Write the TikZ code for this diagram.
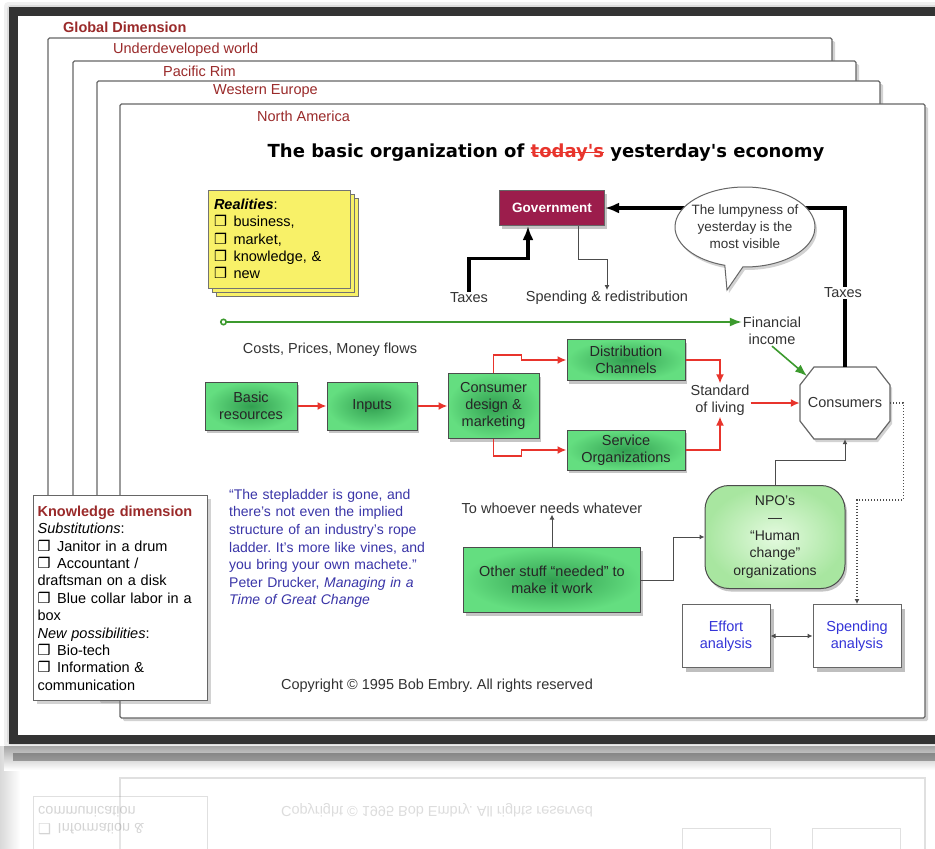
\documentclass[tikz,border=0pt]{standalone}
\usepackage{fontspec}
\setmainfont{Liberation Sans}
\newfontfamily\titlefont{DejaVu Sans}
\newfontfamily\symfont{DejaVu Sans}
\usetikzlibrary{arrows.meta,shapes.callouts,shadows,positioning}

\definecolor{pagered}{HTML}{9A2A2A}
\definecolor{govred}{HTML}{9C1D4C}
\definecolor{boxgreen}{HTML}{64DE80}
\definecolor{darkgreen}{HTML}{32A051}
\definecolor{npolight}{HTML}{E4FADF}
\definecolor{npoedge}{HTML}{A8E6A0}
\definecolor{flowred}{HTML}{E8342C}
\definecolor{flowgreen}{HTML}{3C9A2E}
\definecolor{quoteblue}{HTML}{3A35A8}
\definecolor{linkblue}{HTML}{3434D8}
\definecolor{noteyellow}{HTML}{F8F168}

\newcommand{\cb}{{\symfont ❒}\hspace{.45em}}
\newsavebox\strikebox
\newcommand{\strikeout}[1]{\sbox\strikebox{#1}\rlap{\color{flowred}\rule[.28em]{\wd\strikebox}{.9pt}}\usebox\strikebox}
\frenchspacing

\begin{document}
\begin{tikzpicture}[%
    x=1pt, y=-1pt,
    >=Latex,
    font=\fontsize{14.5}{17.2}\selectfont,
    node distance=30pt,
    pagebox/.style={draw=black!60, line width=1.2pt, fill=white, rounded corners=1.5pt,
        drop shadow={shadow xshift=3pt, shadow yshift=-3pt, opacity=.35}},
    pagelabel/.style={anchor=west, text=pagered, inner sep=0pt},
    notebox/.style={rectangle, fill=noteyellow, draw=black!55, line width=.8pt,
        minimum width=142pt, minimum height=98pt, text width=130pt, align=left,
        double copy shadow={shadow xshift=4pt, shadow yshift=-4pt}},
    govbox/.style={rectangle, fill=govred, draw=black!60, line width=1pt, text=white,
        font=\fontsize{13.5}{16}\selectfont\bfseries, minimum width=105pt, minimum height=35pt,
        drop shadow={shadow xshift=2pt, shadow yshift=-3pt, opacity=.45}},
    flowbox/.style={rectangle, draw=black!70, line width=1pt, inner color=darkgreen,
        outer color=boxgreen, text=black!85, align=center, inner sep=2pt,
        drop shadow={shadow xshift=2pt, shadow yshift=-3pt, opacity=.45}},
    analysisbox/.style={rectangle, draw=black!60, line width=1pt, fill=white, text=linkblue,
        align=center, minimum width=88pt, minimum height=63pt,
        drop shadow={shadow xshift=4pt, shadow yshift=-4pt, opacity=.5}},
    plainlbl/.style={text=black!80, align=center, inner sep=1pt},
    redflow/.style={draw=flowred, line width=1.8pt, -{Latex[length=9pt, width=8pt]}},
    greenflow/.style={draw=flowgreen, line width=1.6pt, -{Latex[length=12pt, width=9pt]}},
    taxflow/.style={draw=black, line width=3.5pt, -{Latex[length=14pt, width=11pt]}},
    thinflow/.style={draw=black!70, line width=1pt, -{Latex[length=5pt, width=5pt]}},
    ]

    \useasboundingbox (0,0) rectangle (935,849);
    \fill[white] (0,0) rectangle (935,849);

    % outer frame (Global Dimension)
    \foreach \d/\op in {9/.06, 6/.08, 3/.12}
        \fill[black, opacity=\op, rounded corners=4pt] (13-\d,11-\d) rectangle (960,739+\d);
    \draw[line width=9pt, draw=black!80, fill=white] (13,11) rectangle (960,739);

    % reflection
    \shade[left color=black!15, right color=white] (0,746) rectangle (20,849);
    \begin{scope}
        \clip (0,745) rectangle (935,849);
        \shade[top color=black!35, bottom color=white] (4,746) rectangle (935,770);
        \begin{scope}[shift={(0,1496)}, yscale=-1]
            \draw[line width=8pt, draw=black!80, opacity=.4] (13,739) -- (960,739);
            \begin{scope}[opacity=.17, transform shape]
                \draw[black!70, line width=1.2pt] (120,560) -- (120,718) -- (925,718) -- (925,560);
                \draw[black!70, line width=1pt, fill=white] (33,560) rectangle (207,700);
                \node[anchor=west, inner sep=0pt] (commrefl) at (38,684) {communication};
                \node[anchor=west, inner sep=0pt] (inforefl) at (38,667) {\cb Information \&};
                \node[plainlbl] (copyrefl) at (437,686) {Copyright © 1995 Bob Embry. All rights reserved};
                \draw[black!70, line width=1pt] (682,600) rectangle (770,668);
                \draw[black!70, line width=1pt] (812,600) rectangle (900,668);
            \end{scope}
        \end{scope}
    \end{scope}

    % stacked pages
    \node[pagelabel, font=\fontsize{14.5}{17}\selectfont\bfseries] (gdlbl) at (63,27) {Global Dimension};
    \draw[pagebox] (48,38) rectangle (832,690);
    \node[pagelabel] (uwlbl) at (113,50) {Underdeveloped world};
    \draw[pagebox] (73,61) rectangle (856,690);
    \node[pagelabel] (prlbl) at (163,71) {Pacific Rim};
    \draw[pagebox] (97,81) rectangle (880,700);
    \node[pagelabel] (welbl) at (213,91) {Western Europe};
    \draw[pagebox] (120,104) rectangle (925,718);
    \node[pagelabel] (nalbl) at (257,116) {North America};

    \node[font=\titlefont\bfseries\fontsize{18}{21}\selectfont] (title) at (546,153)
        {The basic organization of \strikeout{\textcolor{flowred}{today's}} yesterday's economy};

    \node[notebox] (real) at (279,239)
        {{\bfseries\itshape Realities}:\\ \cb business,\\ \cb market,\\ \cb knowledge, \&\\ \cb new};

    \node[govbox] (gov) at (552,208) {Government};
    % octagon round the consumers
    \coordinate (conscentre) at (845,403);
    \draw[draw=black!60, line width=1.2pt, fill=white,
        drop shadow={shadow xshift=2pt, shadow yshift=-3pt, opacity=.35}]
        ([shift={(-31,-36)}]conscentre) -- ([shift={(31,-36)}]conscentre)
        -- ([shift={(45,-18)}]conscentre) -- ([shift={(45,18)}]conscentre)
        -- ([shift={(31,36)}]conscentre) -- ([shift={(-31,36)}]conscentre)
        -- ([shift={(-45,18)}]conscentre) -- ([shift={(-45,-18)}]conscentre) -- cycle;
    \node[minimum width=90pt, minimum height=72pt, inner sep=0pt, text=black!80] (cons) at (conscentre) {Consumers};

    % taxes from consumers
    \draw[taxflow] (cons.north) |- (gov.east);
    \node[plainlbl, fill=white] (taxR) at (843,293) {Taxes};

    \node[ellipse callout, draw=black!60, fill=white, line width=1pt,
        minimum width=140pt, minimum height=80pt, inner sep=0pt,
        callout absolute pointer={(727,290)},
        drop shadow={shadow xshift=2pt, shadow yshift=-3pt, opacity=.35}] (bubble) at (745,227) {};
    \node[plainlbl, font=\fontsize{13.5}{17}\selectfont] (bubbletxt) at (bubble) {The lumpyness of\\yesterday is the\\most visible};

    \node[plainlbl] (taxL) at (469,298) {Taxes};
    \node[plainlbl] (spendlbl) at (607,298) {Spending \& redistribution};
    \draw[taxflow] (taxL.north) -- ++(0,-33) -| ([xshift=-24pt]gov.south);
    \draw[thinflow] ([xshift=26pt]gov.south) -- ++(0,33) -| (spendlbl.north);

    % money flows
    \coordinate (gstart) at (220,322);
    \node[plainlbl] (finlbl) at (772,331) {Financial\\income};
    \draw[greenflow, {Circle[open, length=7pt]}-{Latex[length=12pt, width=9pt]}] (gstart) -- (gstart -| finlbl.west);
    \draw[greenflow] (finlbl.south) -- ([shift={(-38,-27)}]cons.center);
    \node[plainlbl] (costs) at (330,350) {Costs, Prices, Money flows};

    \node[flowbox, minimum width=92pt, minimum height=48pt] (basic) at (251,406) {Basic\\resources};
    \node[flowbox, minimum width=90pt, minimum height=48pt, right=29pt of basic] (inputs) {Inputs};
    \node[flowbox, minimum width=91pt, minimum height=65pt, right=30pt of inputs] (design) {Consumer\\design \&\\marketing};
    \node[flowbox, minimum width=118pt, minimum height=41pt] (distrib) at (626,360) {Distribution\\Channels};
    \node[flowbox, minimum width=118pt, minimum height=40pt] (service) at (626,450) {Service\\Organizations};
    \node[plainlbl] (stdl) at (720,400) {Standard\\of living};

    \draw[redflow] (basic) -- (inputs);
    \draw[redflow] (inputs) -- (design);
    \draw[redflow] (design.north) -- ++(0,-18) -- ++(28,0) |- (distrib.west);
    \draw[redflow] (design.south) -- ++(0,17) -- ++(28,0) |- (service.west);
    \draw[redflow] (distrib.east) -| (stdl.north);
    \draw[redflow] (service.east) -| (stdl.south);
    \draw[redflow] (stdl.east |- cons.west) -- (cons.west);

    % lower part
    \node[flowbox, minimum width=177pt, minimum height=65pt] (other) at (552,580) {Other stuff “needed” to\\make it work};
    \node[plainlbl] (whoever) at (552,508) {To whoever needs whatever};
    \node[flowbox, rounded corners=24pt, inner color=npolight, outer color=npoedge,
        minimum width=140pt, minimum height=103pt,
        font=\fontsize{14}{17.5}\selectfont] (npo) at (775,537) {NPO's\\—\\“Human\\change”\\organizations};
    \node[analysisbox] (effort) at (726,636) {Effort\\analysis};
    \node[analysisbox, right=42pt of effort] (spend) {Spending\\analysis};

    \draw[thinflow] (other.north) -- (whoever.south);
    \draw[thinflow] (other.east) -- ++(32,0) |- (npo.west);
    \draw[thinflow] (npo.north) -- ++(0,-25) -| (cons.south);
    \draw[thinflow, dotted, line width=1.3pt] (cons.east) -- ++(13,0) -- ++(0,97) -| (spend.north);
    \draw[thinflow, {Latex[length=5pt, width=5pt]}-{Latex[length=5pt, width=5pt]}] (effort) -- (spend);

    \node[anchor=north west, text=quoteblue, text width=205pt, align=left, inner sep=0pt,
        font=\fontsize{14}{17.6}\selectfont] (quote) at (229,489)
        {“The stepladder is gone, and\\there's not even the implied\\structure of an industry's rope\\ladder. It's more like vines, and\\you bring your own machete.”\\Peter Drucker, \textit{Managing in a}\\\textit{Time of Great Change}};

    \node[anchor=north west, draw=black!60, line width=1.2pt, fill=white,
        minimum width=174pt, minimum height=205pt, text width=166pt, align=left, inner xsep=4pt,
        font=\fontsize{14.5}{17.4}\selectfont,
        drop shadow={shadow xshift=3pt, shadow yshift=-3pt, opacity=.35}] (know) at (33,495)
        {{\color{pagered}\bfseries Knowledge dimension}\\
         \textit{Substitutions}:\\
         \cb Janitor in a drum\\
         \cb Accountant /\\
         draftsman on a disk\\
         \cb Blue collar labor in a\\
         box\\
         \textit{New possibilities}:\\
         \cb Bio-tech\\
         \cb Information \&\\
         communication};

    \node[plainlbl] (copyr) at (437,686) {Copyright © 1995 Bob Embry. All rights reserved};

\end{tikzpicture}
\end{document}
